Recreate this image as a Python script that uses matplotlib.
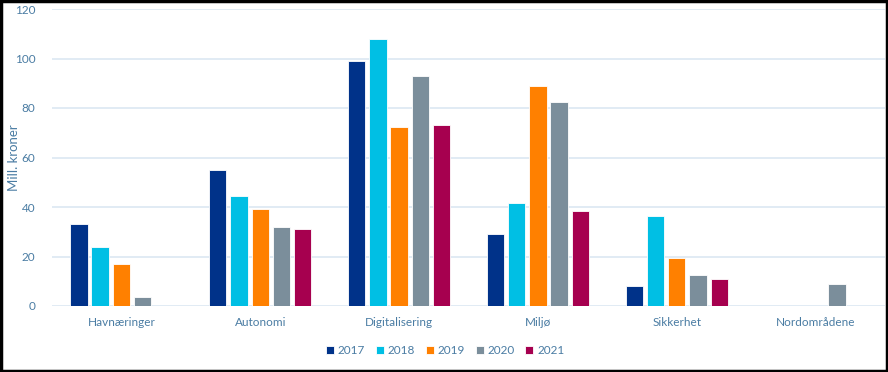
import matplotlib.pyplot as plt
import numpy as np
from matplotlib.patches import Rectangle

categories = ["Havnæringer", "Autonomi", "Digitalisering", "Miljø", "Sikkerhet", "Nordområdene"]
years = ["2017", "2018", "2019", "2020", "2021"]
v2017 = [33, 55, 99, 29, 8, 0]
v2018 = [24, 44.5, 108, 41.5, 36.5, 0]
v2019 = [17, 39, 72.5, 89, 19.5, 0]
v2020 = [3.7, 32, 93, 82.5, 12.5, 9]
v2021 = [0, 31, 73, 38.5, 11, 0]
series = [v2017, v2018, v2019, v2020, v2021]
colors = ["#003289", "#00BFE4", "#FF8000", "#7B8E9B", "#A6004F"]

text_col = "#4A7CA3"
plt.rcParams["font.family"] = ["Lato", "DejaVu Sans"]

fig = plt.figure(figsize=(8.88, 3.72), dpi=100)
ax = fig.add_axes([52 / 888, 66 / 372, 833 / 888, 297 / 372])

x = np.arange(len(categories))
step = 0.153
width = 0.125
for i, (vals, col, yr) in enumerate(zip(series, colors, years)):
    ax.bar(x + (i - 2) * step, vals, width, color=col, label=yr,
           edgecolor="white", linewidth=0.6, zorder=3)

ax.set_xlim(-0.5, len(categories) - 0.5)
ax.set_ylim(0, 120)
ax.set_yticks(range(0, 121, 20))
ax.set_xticks(x)
ax.set_xticklabels(categories)
ax.tick_params(axis="both", length=0, colors=text_col, labelsize=8.5)
ax.tick_params(axis="x", pad=8)
ax.tick_params(axis="y", pad=12)
ax.grid(axis="y", color="#DCE8F2", linewidth=1.2, zorder=0)
for s in ax.spines.values():
    s.set_visible(False)
ax.set_ylabel("Mill. kroner", color=text_col, fontsize=9.5)
ax.yaxis.set_label_coords(-0.039, 0.5)

ax.legend(loc="upper center", bbox_to_anchor=(0.472, -0.095), ncol=5, frameon=False,
          fontsize=8.5, labelcolor=text_col, handlelength=0.7, handleheight=0.7,
          handletextpad=0.3, columnspacing=0.9)

fig.patches.append(Rectangle((0.0015, 0.003), 0.997, 0.994, transform=fig.transFigure,
                             fill=False, edgecolor="black", linewidth=2.5))

fig.savefig("out.png", dpi=100)
